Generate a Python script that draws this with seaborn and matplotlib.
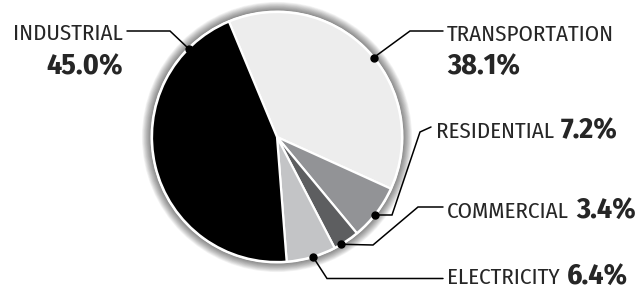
import numpy as np
import matplotlib
matplotlib.use('Agg')
import matplotlib.pyplot as plt
from matplotlib.patches import Circle
import seaborn as sns

# Data
sectors = ['TRANSPORTATION', 'RESIDENTIAL', 'COMMERCIAL', 'ELECTRICITY', 'INDUSTRIAL']
shares = [38.1, 7.2, 3.4, 6.4, 45.0]
colors = ['#ededed', '#929396', '#5d5e60', '#c3c4c6', '#000000']

sns.set_style('white')
plt.rcParams['font.family'] = ['Fira Sans Condensed', 'PT Sans Narrow', 'DejaVu Sans']

W, H = 644, 289
fig = plt.figure(figsize=(W / 100, H / 100), dpi=100)
ax = fig.add_axes([0, 0, 1, 1])

cx, cy, r = 277, H - 137, 125

# soft shadow around the pie
for i in range(14):
    ax.add_patch(Circle((cx, cy), r + 1 + i * 0.7, color='black', alpha=0.045, lw=0, zorder=1))
ax.add_patch(Circle((cx, cy), r + 1.5, color='white', lw=0, zorder=2))

wedges, _ = ax.pie(shares, colors=colors, startangle=112.6, counterclock=False,
                   center=(cx, cy), radius=r, frame=True,
                   wedgeprops=dict(edgecolor='white', linewidth=1.6))
for w in wedges:
    w.set_zorder(3)
ax.set_xlim(0, W)
ax.set_ylim(0, H)
ax.set_aspect('equal')
ax.axis('off')

# leader lines (pixel coords, y from top), dot angle in degrees
leaders = {
    'TRANSPORTATION': (39.4, [(410, 31), (443, 31)]),
    'RESIDENTIAL': (-38.6, [(392, 215), (420, 132), (431, 127)]),
    'COMMERCIAL': (-59.1, [(373, 245), (418, 207), (443, 207)]),
    'ELECTRICITY': (-73.3, [(327, 278.5), (443, 278.5)]),
    'INDUSTRIAL': (135, [(170, 31), (127, 31)]),
}
for name, (ang, pts) in leaders.items():
    a = np.deg2rad(ang)
    dx, dy = cx + r * np.cos(a), cy + r * np.sin(a)
    xs = [dx] + [p[0] for p in pts]
    ys = [dy] + [H - p[1] for p in pts]
    ax.plot(xs, ys, color='black', lw=1.1, zorder=5, solid_joinstyle='miter')
    ax.plot(dx, dy, 'o', color='black', ms=5, zorder=6)

lab_fs, pct_fs = 16.5, 21.5

# two-line labels (y = baseline, px from top)
ax.text(123, H - 40, 'INDUSTRIAL', fontsize=lab_fs, ha='right', va='baseline')
ax.text(123, H - 74, f'{shares[4]:.1f}%', fontsize=pct_fs, weight='bold', ha='right', va='baseline')
ax.text(447, H - 41, 'TRANSPORTATION', fontsize=lab_fs, ha='left', va='baseline')
ax.text(447, H - 73.5, f'{shares[0]:.1f}%', fontsize=pct_fs, weight='bold', ha='left', va='baseline')

# one-line labels
renderer = fig.canvas.get_renderer()
inline = [('RESIDENTIAL', 436, 137.5, shares[1]),
          ('COMMERCIAL', 447, 218.3, shares[2]),
          ('ELECTRICITY', 447, 284, shares[3])]
for name, x, y, v in inline:
    t = ax.text(x, H - y, name, fontsize=lab_fs, ha='left', va='baseline')
    bb = t.get_window_extent(renderer)
    ax.text(bb.x1 + 7, H - y, f'{v:.1f}%', fontsize=pct_fs, weight='bold', ha='left', va='baseline')

fig.savefig('out.png', dpi=100)
